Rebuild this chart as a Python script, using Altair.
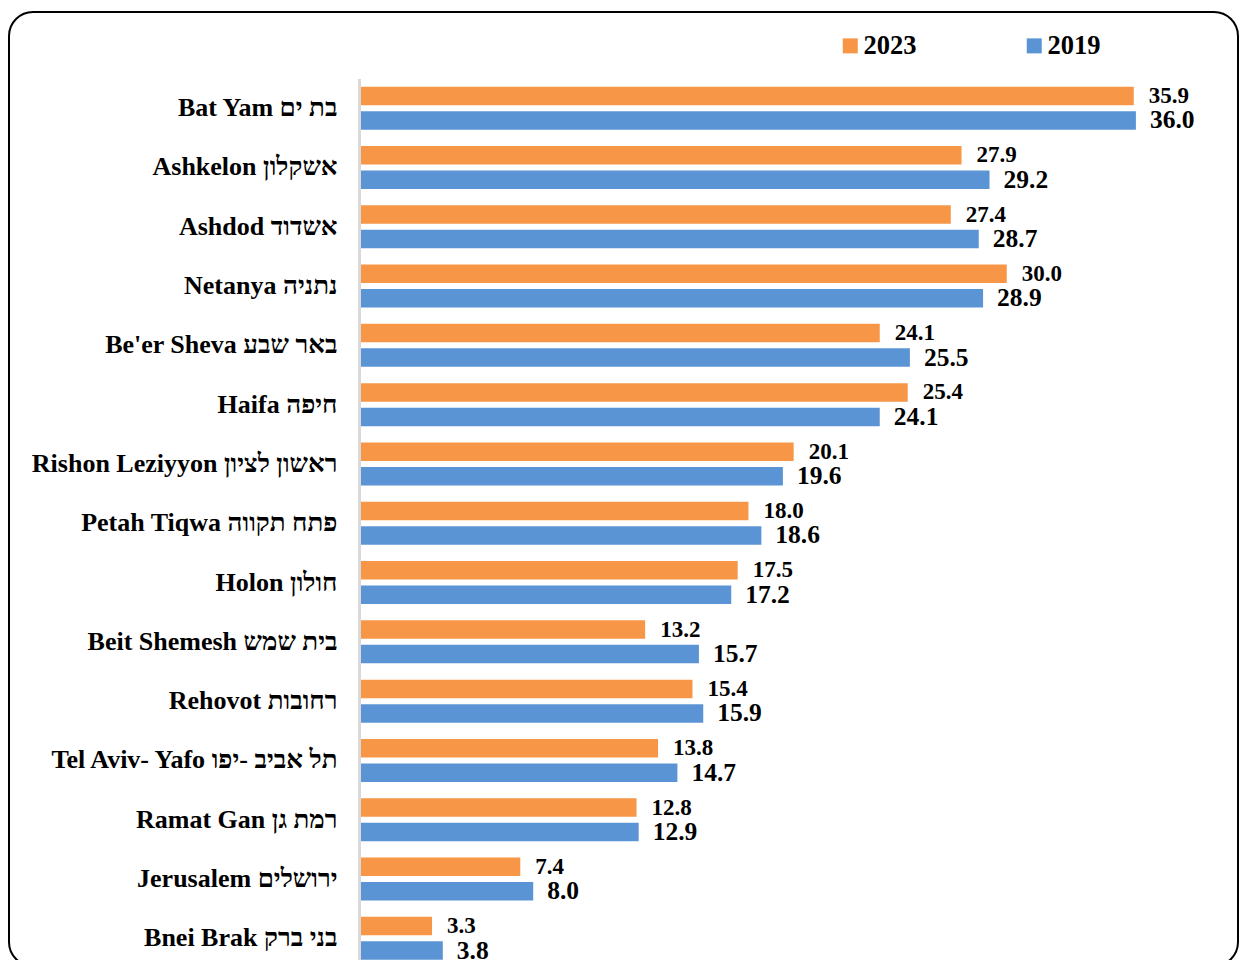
import altair as alt
import pandas as pd

cities = [
    "Bat Yam בת ים",
    "Ashkelon אשקלון",
    "Ashdod אשדוד",
    "Netanya נתניה",
    "Be'er Sheva באר שבע",
    "Haifa חיפה",
    "Rishon Leziyyon ראשון לציון",
    "Petah Tiqwa פתח תקווה",
    "Holon חולון",
    "Beit Shemesh בית שמש",
    "Rehovot רחובות",
    "Tel Aviv- Yafo תל אביב -יפו",
    "Ramat Gan רמת גן",
    "Jerusalem ירושלים",
    "Bnei Brak בני ברק",
]
v2023 = [35.9, 27.9, 27.4, 30.0, 24.1, 25.4, 20.1, 18.0, 17.5, 13.2, 15.4, 13.8, 12.8, 7.4, 3.3]
v2019 = [36.0, 29.2, 28.7, 28.9, 25.5, 24.1, 19.6, 18.6, 17.2, 15.7, 15.9, 14.7, 12.9, 8.0, 3.8]
years = ["2023", "2019"]
colors = ["#F79646", "#5B94D5"]

rows = []
for i, c in enumerate(cities):
    rows.append({"city": c, "year": "2023", "value": v2023[i]})
    rows.append({"city": c, "year": "2019", "value": v2019[i]})
df = pd.DataFrame(rows)

FONT = "Liberation Serif, Liberation Sans, DejaVu Sans"
W = 861
H = 881.5
RANGE_H = 889.5

y_enc = alt.Y(
    "city:N",
    sort=cities,
    scale=alt.Scale(range=[0, RANGE_H], paddingInner=0.275, paddingOuter=0.1375),
    axis=alt.Axis(
        title=None, ticks=False, domainColor="#d9d9d9", domainWidth=3,
        labelFont=FONT, labelFontWeight="bold", labelFontSize=26,
        labelColor="black", labelPadding=22, labelLimit=400, offset=2,
    ),
)
yoff = alt.YOffset("year:N", sort=years, scale=alt.Scale(domain=years, paddingInner=0.245))
x_enc = alt.X("value:Q", scale=alt.Scale(domain=[0, 40], nice=False), axis=None)

base = alt.Chart(df)
bars = base.mark_bar().encode(
    y=y_enc,
    yOffset=yoff,
    x=x_enc,
    color=alt.Color(
        "year:N",
        sort=years,
        scale=alt.Scale(domain=years, range=colors),
        legend=alt.Legend(
            title=None, orient="none", legendX=476, legendY=-46,
            direction="horizontal", symbolType="square", symbolSize=225,
            symbolStrokeWidth=0, symbolOpacity=1,
            labelFont=FONT, labelFontWeight="bold", labelFontSize=26.5,
            labelColor="black", labelOffset=0, columnPadding=104, padding=0,
        ),
    ),
)

t23 = base.transform_filter(alt.datum.year == "2023").mark_text(
    align="left", baseline="middle", dx=15, font=FONT, fontWeight="bold",
    fontSize=23, color="black",
).encode(y=y_enc, yOffset=yoff, x=x_enc, text=alt.Text("value:Q", format=".1f"))

t19 = base.transform_filter(alt.datum.year == "2019").mark_text(
    align="left", baseline="middle", dx=14, font=FONT, fontWeight="bold",
    fontSize=25.5, color="black",
).encode(y=y_enc, yOffset=yoff, x=x_enc, text=alt.Text("value:Q", format=".1f"))

frame = alt.Chart(pd.DataFrame({"a": [0]})).mark_rect(
    filled=False, stroke="black", strokeWidth=2, cornerRadius=24
).encode(x=alt.value(-352), x2=alt.value(877), y=alt.value(-66.5), y2=alt.value(887.5))

chart = alt.layer(frame, bars, t23, t19).properties(
    width=W, height=H,
    autosize=alt.AutoSizeParams(type="none"),
    padding={"left": 353, "top": 70.5, "right": 18, "bottom": 0},
).configure_view(stroke=None)

chart.save("out.html", embed_options={"renderer": "svg", "actions": False})
